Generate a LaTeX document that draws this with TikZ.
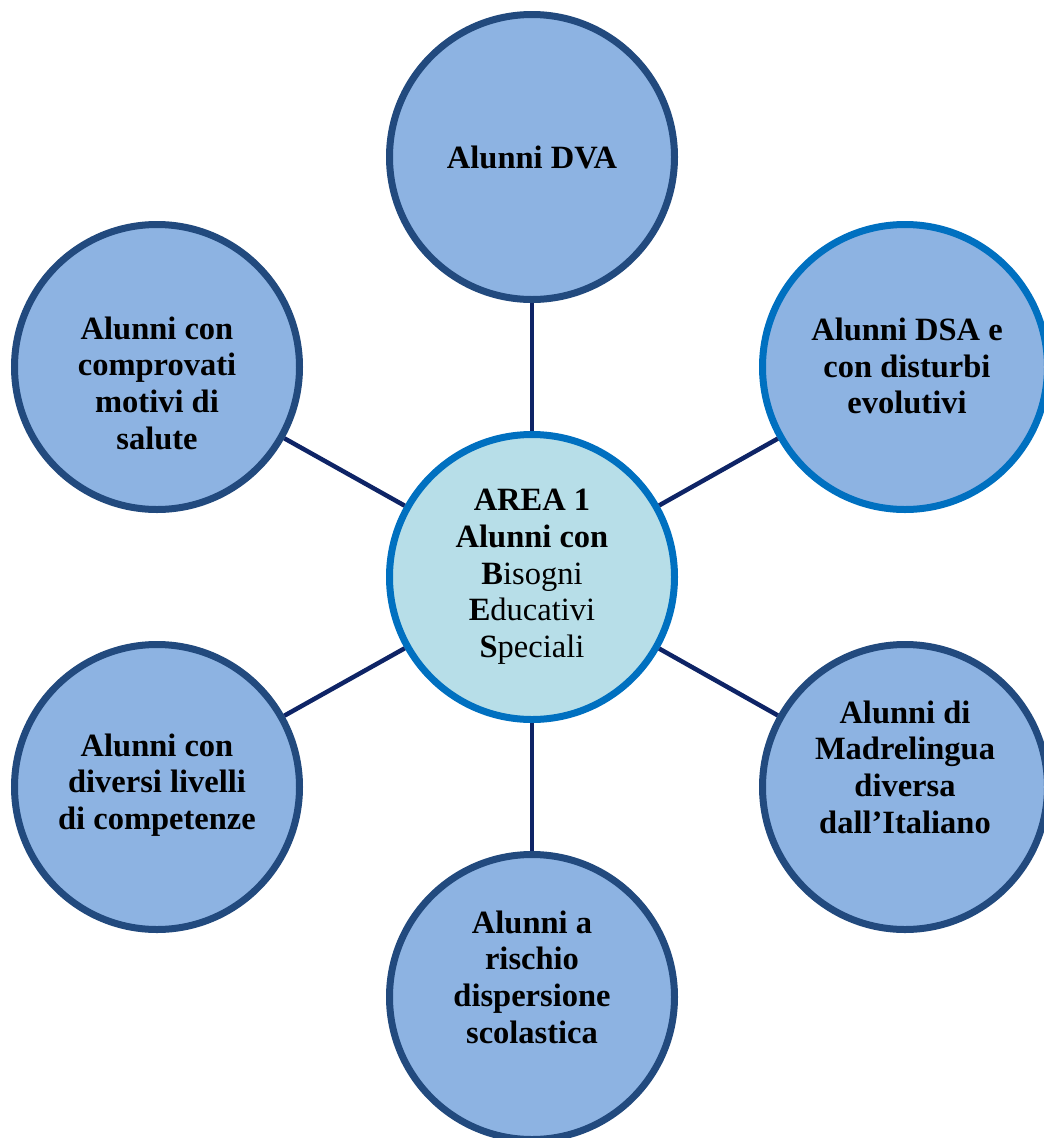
\documentclass[tikz,border=0pt]{standalone}
\usepackage{fontspec}
\setmainfont{Liberation Serif}
\definecolor{outerfill}{HTML}{8DB3E2}
\definecolor{outerdraw}{HTML}{224A7E}
\definecolor{brightblue}{HTML}{0070C0}
\definecolor{centerfill}{HTML}{B7DEE8}
\definecolor{linkcol}{HTML}{0E2466}
\begin{document}
\begin{tikzpicture}[x=1pt,y=-1pt,
  bubble/.style={circle,draw=outerdraw,fill=outerfill,line width=7pt,minimum size=285pt,inner sep=0pt},
  hub/.style={circle,draw=brightblue,fill=centerfill,line width=7pt,minimum size=285pt,inner sep=0pt},
  txt/.style={align=center,font=\fontsize{32.5}{36.7}\selectfont\bfseries,inner sep=0pt},
  link/.style={draw=linkcol,line width=4.5pt}]
\clip (0,0) rectangle (1044,1138);
\useasboundingbox (0,0) rectangle (1044,1138);
\node[hub] (c0) at (532,577) {};
\node[bubble] (n1) at (532,157) {};
\node[bubble,draw=brightblue] (n2) at (905,367) {};
\node[bubble] (n3) at (905,787) {};
\node[bubble] (n4) at (532,997) {};
\node[bubble] (n5) at (157,787) {};
\node[bubble] (n6) at (157,367) {};
\foreach \n in {n1,n2,n3,n4,n5,n6} \draw[link] (c0) -- (\n);
\node[txt] (t0) at (532,577) {AREA 1\\Alunni con\\\textbf{B}\mdseries isogni\\\textbf{E}\mdseries ducativi\\\textbf{S}\mdseries peciali};
\node[txt] (t1) at (532,157) {Alunni DVA};
\node[txt] (t2) at (907,366) {Alunni DSA e\\con disturbi\\evolutivi};
\node[txt] (t3) at (905,767) {Alunni di\\Madrelingua\\diversa\\dall’Italiano};
\node[txt] (t4) at (532,977) {Alunni a\\rischio\\dispersione\\scolastica};
\node[txt] (t5) at (157,785) {Alunni con\\diversi livelli\\di competenze};
\node[txt] (t6) at (157,383) {Alunni con\\comprovati\\motivi di\\salute};
\end{tikzpicture}
\end{document}
